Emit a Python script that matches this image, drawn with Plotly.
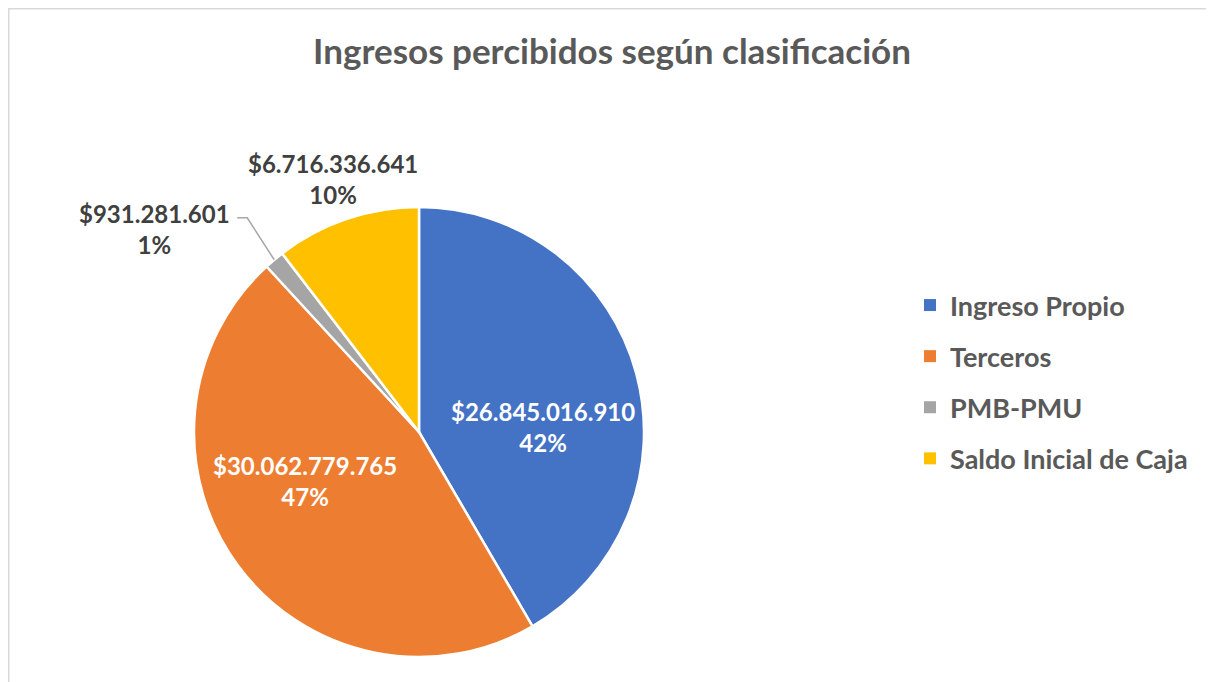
import math
import plotly.graph_objects as go

labels = ["Ingreso Propio", "Terceros", "PMB-PMU", "Saldo Inicial de Caja"]
values = [26845016910, 30062779765, 931281601, 6716336641]
colors = ["#4472C4", "#ED7D31", "#A5A5A5", "#FFC000"]
title_text = "Ingresos percibidos según clasificación"

W, H = 1214, 682
OFF = 8  # page body margin
CX, CY, R = 419, 432, 225  # pie centre / radius in screen px

def px(x, y):
    return (x - OFF) / W, 1 - (y - OFF) / H

FONT = "Lato"
fig = go.Figure()
dx0, dy1 = px(CX - R, CY - R)
dx1, dy0 = px(CX + R, CY + R)
fig.add_trace(go.Pie(
    labels=labels, values=values, sort=False, direction="clockwise", rotation=0,
    marker=dict(colors=colors, line=dict(color="white", width=2.5)),
    textinfo="none",
    domain=dict(x=[dx0, dx1], y=[dy0, dy1]),
    showlegend=False, hoverinfo="label+value+percent",
))
# legend entries (one group per category so they can be spaced)
for lab, col in zip(labels, colors):
    fig.add_trace(go.Scatter(x=[None], y=[None], mode="markers", name=lab, legendgroup=lab,
                             marker=dict(symbol="square", size=12, color=col, line=dict(width=0)),
                             hoverinfo="skip"))

total = sum(values)
def fmt(v):
    return "$" + f"{v:,}".replace(",", ".") + "<br>" + f"{round(v / total * 100)}%"

cum = 0
mids = []
for v in values:
    mids.append((cum + v / 2) / total * 2 * math.pi)
    cum += v

annotations = []
shapes = []
# inside labels (Ingreso Propio, Terceros)
for i in (0, 1):
    a = mids[i] + math.radians(13)
    lx, ly = CX + 0.55 * R * math.sin(a), CY - 0.55 * R * math.cos(a)
    x, y = px(lx, ly)
    annotations.append(dict(x=x, y=y, xref="paper", yref="paper", text=fmt(values[i]),
                            showarrow=False, xanchor="center", yanchor="middle",
                            font=dict(family=FONT, size=24, color="white", weight="bold")))
# Saldo Inicial de Caja: outside
a = mids[3]
lx, ly = CX + (R + 42) * math.sin(a), CY - (R + 42) * math.cos(a)
x, y = px(lx, ly)
annotations.append(dict(x=x, y=y, xref="paper", yref="paper", text=fmt(values[3]),
                        showarrow=False, xanchor="center", yanchor="middle",
                        font=dict(family=FONT, size=24, color="#404040", weight="bold")))
# PMB-PMU: outside with leader line
a = mids[2]
ex, ey = CX + R * math.sin(a), CY - R * math.cos(a)
elx, ely = ex - 27, ey - 42
tx = elx - 10
shapes.append(dict(type="path", xref="paper", yref="paper",
                   path="M {} {} L {} {} L {} {}".format(*px(ex, ey), *px(elx, ely), *px(tx, ely)),
                   line=dict(color="#A6A6A6", width=1.5)))
x, y = px(tx - 5, ely + 11)
annotations.append(dict(x=x, y=y, xref="paper", yref="paper", text=fmt(values[2]),
                        showarrow=False, xanchor="right", yanchor="middle", align="center",
                        font=dict(family=FONT, size=24, color="#404040", weight="bold")))

# chart frame
x0, y0 = px(8.75, H + 20)
x1, y1 = px(W + 20, 8.75)
shapes.append(dict(type="rect", xref="paper", yref="paper", x0=x0, y0=y0, x1=x1, y1=y1,
                   line=dict(color="#D9D9D9", width=1.5)))

tx_, ty_ = px(612, 52)
lgx, lgy = px(910, 382)
fig.update_layout(
    width=W, height=H, margin=dict(l=0, r=0, t=0, b=0),
    paper_bgcolor="white", plot_bgcolor="white",
    xaxis=dict(visible=False), yaxis=dict(visible=False),
    title=dict(text=title_text, x=tx_, xanchor="center", y=ty_, yanchor="middle",
               font=dict(family=FONT, size=35, color="#595959", weight="bold")),
    legend=dict(x=lgx, xanchor="left", y=lgy, yanchor="middle",
                traceorder="grouped", tracegroupgap=13,
                font=dict(family=FONT, size=27, color="#595959", weight="bold")),
    annotations=annotations, shapes=shapes,
)
fig.write_html("out.html")
